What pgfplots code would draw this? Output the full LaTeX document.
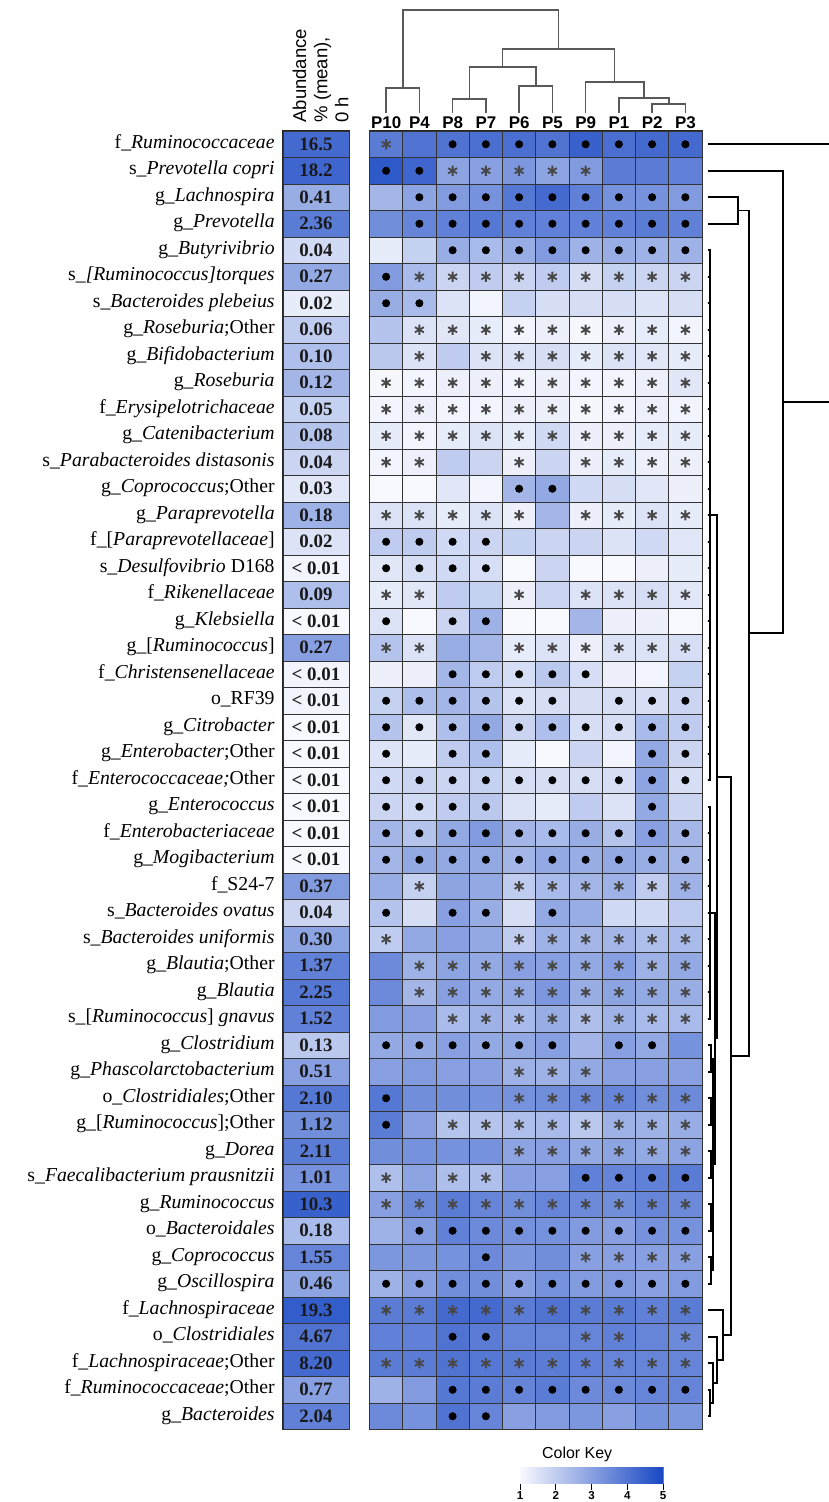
\documentclass[border=0pt]{standalone}
\usepackage{pgfplots}
\pgfplotsset{compat=1.18}
\usepackage{pgfplotstable}
\usepgfplotslibrary{patchplots}
\usepackage{fontspec}
\setmainfont{Liberation Serif}
\newfontfamily\arial{Liberation Sans}

\pgfdeclareplotmark{hcell}{\pgfpathrectangle{\pgfpoint{-8.3125bp}{-6.625bp}}{\pgfpoint{16.625bp}{13.25bp}}\pgfusepathqfillstroke}
\pgfdeclareplotmark{acell}{\pgfpathrectangle{\pgfpoint{-16.5bp}{-6.625bp}}{\pgfpoint{33bp}{13.25bp}}\pgfusepathqfillstroke}

\pgfplotsset{colormap={hm}{rgb255=(248,249,254) rgb255=(25,72,196)}}

\pgfplotstableread{
r c0 c1 c2 c3 c4 c5 c6 c7 c8 c9 s0 s1 s2 s3 s4 s5 s6 s7 s8 s9
0 3.8 4.0 4.0 4.1 4.1 4.0 4.4 4.1 4.2 4.2 1 0 2 2 2 2 2 2 2 2
1 4.6 4.3 2.9 3.0 3.2 2.9 3.1 3.8 3.8 3.7 2 2 1 1 1 1 1 0 0 0
2 2.5 2.9 3.1 3.3 3.9 4.2 3.7 3.3 3.3 3.1 0 2 2 2 2 2 2 2 2 2
3 3.4 3.6 3.7 3.9 3.7 3.7 3.7 3.7 3.8 3.7 0 2 2 2 2 2 2 2 2 2
4 1.3 1.9 2.7 2.4 2.7 3.1 2.6 2.7 2.6 2.6 0 0 2 2 2 2 2 2 2 2
5 3.1 2.4 1.8 2.0 1.8 2.0 1.6 1.9 1.8 1.8 2 1 1 1 1 1 1 1 1 1
6 2.7 2.4 1.5 1.1 1.9 1.6 1.6 1.6 1.5 1.6 2 2 0 0 0 0 0 0 0 0
7 2.2 1.5 1.4 1.3 1.1 1.2 1.05 1.2 1.3 1.1 0 1 1 1 1 1 1 1 1 1
8 2.1 1.5 2.0 1.5 1.5 1.6 1.3 1.5 1.4 1.3 0 1 0 1 1 1 1 1 1 1
9 1.05 1.1 1.2 1.2 1.1 1.2 1.1 1.1 1.2 1.4 1 1 1 1 1 1 1 1 1 1
10 1.1 1.2 1.1 1.1 1.2 1.2 1.05 1.1 1.2 1.1 1 1 1 1 1 1 1 1 1 1
11 1.3 1.1 1.3 1.5 1.3 1.7 1.2 1.2 1.3 1.3 1 1 1 1 1 1 1 1 1 1
12 1.1 1.2 2.0 1.8 1.2 1.8 1.2 1.3 1.2 1.2 1 1 0 0 1 0 1 1 1 1
13 1.0 1.0 1.4 1.1 2.5 2.8 1.7 1.6 1.4 1.2 0 0 0 0 2 2 0 0 0 0
14 1.5 1.5 1.3 1.5 1.2 2.5 1.2 1.3 1.5 1.3 1 1 1 1 1 0 1 1 1 1
15 2.0 2.0 1.7 1.8 1.9 1.8 1.8 1.5 1.7 1.4 2 2 2 2 0 0 0 0 0 0
16 1.4 1.6 1.7 1.6 1.0 1.8 1.0 1.0 1.2 1.3 2 2 2 2 0 0 0 0 0 0
17 1.3 1.4 2.0 1.9 1.2 1.8 1.5 1.5 1.6 1.4 1 1 0 0 1 0 1 1 1 1
18 1.5 1.0 1.8 2.6 1.0 1.0 2.5 1.2 1.2 1.0 2 0 2 2 0 0 0 0 0 0
19 2.2 1.5 2.7 2.5 1.3 1.5 1.2 1.5 1.5 1.6 1 1 0 0 1 1 1 1 1 1
20 1.2 1.2 2.5 2.0 1.6 2.1 1.6 1.2 1.1 1.9 0 0 2 2 2 2 2 0 0 0
21 1.9 2.3 2.5 2.2 1.5 1.6 1.6 1.6 1.6 1.8 2 2 2 2 2 2 0 2 2 2
22 2.2 1.4 2.3 2.8 1.8 2.3 1.6 1.6 2.4 2.0 2 2 2 2 2 2 2 2 2 2
23 1.5 1.3 2.0 2.3 1.3 1.0 1.8 1.1 2.8 1.8 2 0 2 2 0 0 0 0 2 2
24 1.7 1.8 1.8 1.9 1.6 1.6 1.6 1.6 2.9 1.6 2 2 2 2 2 2 2 2 2 2
25 1.8 1.7 2.0 2.1 1.5 1.3 2.0 1.5 2.8 1.8 2 2 2 2 0 0 0 0 2 0
26 2.5 2.2 2.8 3.1 2.5 2.4 2.7 2.2 3.0 2.5 2 2 2 2 2 2 2 2 2 2
27 2.5 2.8 2.8 2.8 2.5 2.8 2.7 2.8 2.7 2.5 2 2 2 2 2 2 2 2 2 2
28 2.7 1.9 2.9 2.8 2.0 2.4 2.5 2.6 2.0 2.6 0 1 0 0 1 1 1 1 1 1
29 2.2 1.6 3.0 2.7 1.6 2.8 2.7 1.7 1.7 2.0 2 0 2 2 0 2 0 0 0 0
30 2.0 2.8 3.0 2.8 2.0 2.6 2.5 2.5 2.3 2.4 1 0 0 0 1 1 1 1 1 1
31 3.5 2.6 2.9 2.8 3.0 3.0 2.8 3.0 2.6 2.8 0 1 1 1 1 1 1 1 1 1
32 3.5 2.5 3.0 2.8 2.8 3.2 2.7 2.9 2.8 2.7 0 1 1 1 1 1 1 1 1 1
33 3.1 3.0 2.4 2.6 2.4 2.7 2.3 2.6 2.4 2.4 0 0 1 1 1 1 1 1 1 1
34 2.8 2.8 3.0 2.8 2.8 3.0 2.5 3.0 2.8 3.3 2 2 2 2 2 2 0 2 2 0
35 3.0 3.1 3.0 3.0 2.6 2.6 2.8 3.0 3.0 3.0 0 0 0 0 1 1 1 0 0 0
36 3.9 3.4 3.4 3.3 3.3 3.4 3.5 3.6 3.4 3.5 2 0 0 0 1 1 1 1 1 1
37 3.8 3.0 2.2 2.2 2.3 2.4 2.1 2.6 2.6 2.7 2 0 1 1 1 1 1 1 1 1
38 3.4 3.3 3.3 3.3 2.9 3.0 2.8 2.9 2.8 2.9 0 0 0 0 1 1 1 1 1 1
39 2.3 2.9 2.3 2.3 3.0 3.0 3.7 3.6 3.7 3.8 1 0 1 1 0 0 2 2 2 2
40 3.0 3.5 3.8 3.6 3.4 3.6 3.5 3.4 3.6 3.5 1 1 1 1 1 1 1 1 1 1
41 2.6 3.1 3.7 3.5 3.3 3.3 3.1 3.0 3.3 3.3 0 2 2 2 2 2 2 2 2 2
42 3.2 3.2 3.3 3.5 3.2 3.4 3.0 3.0 3.0 3.0 0 0 0 2 0 0 1 1 1 1
43 2.6 3.0 3.4 3.4 3.0 3.3 3.1 3.1 3.0 3.1 2 2 2 2 2 2 2 2 2 2
44 3.8 3.8 4.2 4.2 3.8 4.0 3.8 3.8 3.7 3.8 1 1 1 1 1 1 1 1 1 1
45 3.7 3.7 4.0 3.8 3.6 3.6 3.6 3.7 3.6 3.5 0 0 2 2 0 0 1 1 0 1
46 3.8 3.8 4.0 3.9 3.8 3.8 3.7 3.6 3.6 3.6 1 1 1 1 1 1 1 1 1 1
47 2.6 3.1 3.9 3.8 3.6 3.8 3.5 3.5 3.6 3.6 0 0 2 2 2 2 2 2 2 2
48 3.5 3.3 4.0 3.6 3.0 3.1 3.2 3.0 3.3 3.2 0 0 2 2 0 0 0 0 0 0
}\heat

\pgfplotstableread[col sep=comma]{
y,c,lab
0,4.2,16.5
1,4.3,18.2
2,2.7,0.41
3,3.8,2.36
4,1.7,0.04
5,2.8,0.27
6,1.3,0.02
7,2.0,0.06
8,2.3,0.10
9,2.5,0.12
10,1.9,0.05
11,2.2,0.08
12,1.8,0.04
13,1.4,0.03
14,2.6,0.18
15,1.5,0.02
16,1.1,< 0.01
17,2.3,0.09
18,1.0,< 0.01
19,3.0,0.27
20,1.1,< 0.01
21,1.1,< 0.01
22,1.0,< 0.01
23,1.0,< 0.01
24,1.0,< 0.01
25,1.0,< 0.01
26,1.0,< 0.01
27,1.0,< 0.01
28,3.1,0.37
29,1.8,0.04
30,2.9,0.30
31,3.7,1.37
32,3.9,2.25
33,3.7,1.52
34,2.1,0.13
35,3.0,0.51
36,3.9,2.10
37,3.4,1.12
38,3.8,2.11
39,3.3,1.01
40,4.4,10.3
41,2.4,0.18
42,3.6,1.55
43,2.9,0.46
44,4.5,19.3
45,4.0,4.67
46,4.2,8.20
47,3.0,0.77
48,3.7,2.04
}\abund

\begin{document}
\begin{tikzpicture}
\useasboundingbox (0,0) rectangle (414.5bp,-751bp);

% ---------- abundance column ----------
\begin{axis}[
  at={(141.5bp,-65.5bp)}, anchor=north west,
  x=33bp, y=13.25bp,
  xmin=0, xmax=1, ymin=-0.5, ymax=48.5,
  axis line style={black!85, line width=0.6bp},
  xtick=\empty, ytick={0,...,48}, major tick length=0pt,
  typeset ticklabels with strut,
  yticklabel style={font=\fontsize{9.9}{9.9}\selectfont, anchor=east, inner sep=0pt, xshift=-4bp},
  yticklabels={
{g\_\textit{Bacteroides}},
{f\_\textit{Ruminococcaceae};Other},
{f\_\textit{Lachnospiraceae};Other},
{o\_\textit{Clostridiales}},
{f\_\textit{Lachnospiraceae}},
{g\_\textit{Oscillospira}},
{g\_\textit{Coprococcus}},
{o\_\textit{Bacteroidales}},
{g\_\textit{Ruminococcus}},
{s\_\textit{Faecalibacterium prausnitzii}},
{g\_\textit{Dorea}},
{g\_[\textit{Ruminococcus}];Other},
{o\_\textit{Clostridiales};Other},
{g\_\textit{Phascolarctobacterium}},
{g\_\textit{Clostridium}},
{s\_[\textit{Ruminococcus}] \textit{gnavus}},
{g\_\textit{Blautia}},
{g\_\textit{Blautia};Other},
{s\_\textit{Bacteroides uniformis}},
{s\_\textit{Bacteroides ovatus}},
{f\_S24-7},
{g\_\textit{Mogibacterium}},
{f\_\textit{Enterobacteriaceae}},
{g\_\textit{Enterococcus}},
{f\_\textit{Enterococcaceae;}Other},
{g\_\textit{Enterobacter};Other},
{g\_\textit{Citrobacter}},
{o\_RF39},
{f\_\textit{Christensenellaceae}},
{g\_[\textit{Ruminococcus}]},
{g\_\textit{Klebsiella}},
{f\_\textit{Rikenellaceae}},
{s\_\textit{Desulfovibrio} D168},
{f\_[\textit{Paraprevotellaceae}]},
{g\_\textit{Paraprevotella}},
{g\_\textit{Coprococcus};Other},
{s\_\textit{Parabacteroides distasonis}},
{g\_\textit{Catenibacterium}},
{f\_\textit{Erysipelotrichaceae}},
{g\_\textit{Roseburia}},
{g\_\textit{Bifidobacterium}},
{g\_\textit{Roseburia};Other},
{s\_\textit{Bacteroides plebeius}},
{s\_\textit{[Ruminococcus]torques}},
{g\_\textit{Butyrivibrio}},
{g\_\textit{Prevotella}},
{g\_\textit{Lachnospira}},
{s\_\textit{Prevotella copri}},
{f\_\textit{Ruminococcaceae}}},
  colormap name=hm, point meta min=1, point meta max=5,
]
\addplot[scatter, only marks, mark=acell, line width=0.5bp,
  scatter/use mapped color={draw=black!80, fill=mapped color},
  point meta=explicit]
  table[x expr=0.5, y expr=48-\thisrow{y}, meta=c] {\abund};
\addplot[only marks, mark=none, point meta=explicit symbolic, nodes near coords,
  nodes near coords style={anchor=center, inner sep=0pt, text=black!90,
    font=\bfseries\fontsize{9.5}{9.5}\selectfont}]
  table[x expr=0.5, y expr=48-\thisrow{y}, meta=lab] {\abund};
\end{axis}

\node[rotate=90, anchor=south west, align=left, inner sep=0pt,
  font=\arial\fontsize{9.3}{10.6}\selectfont] at (174.5bp,-61.5bp)
  {Abundance\\\% (mean),\\0 h};

% ---------- heatmap ----------
\begin{axis}[
  at={(184.75bp,-65.5bp)}, anchor=north west,
  x=16.625bp, y=13.25bp,
  xmin=-0.5, xmax=9.5, ymin=-0.5, ymax=48.5,
  clip=false,
  axis line style={black!85, line width=0.6bp},
  xtick={0,...,9}, xticklabels={P10,P4,P8,P7,P6,P5,P9,P1,P2,P3},
  xticklabel pos=right,
  xticklabel style={font=\arial\bfseries\fontsize{8.5}{8.5}\selectfont, anchor=south, inner sep=0pt, yshift=1.2bp},
  ytick=\empty, major tick length=0pt,
  colormap name=hm, point meta min=1, point meta max=5,
  rowd/.style={black, line width=0.8bp, mark=none, forget plot},
  cold/.style={black!65, line width=0.75bp, mark=none, forget plot},
]
% column dendrogram
\addplot[cold] coordinates {(0,49.18)(0,50.12)(1,50.12)(1,49.18)};
\addplot[cold] coordinates {(2,49.18)(2,49.71)(3,49.71)(3,49.18)};
\addplot[cold] coordinates {(4,49.18)(4,50.20)(5,50.20)(5,49.18)};
\addplot[cold] coordinates {(2.5,49.71)(2.5,50.92)(4.5,50.92)(4.5,50.20)};
\addplot[cold] coordinates {(8,49.18)(8,49.52)(9,49.52)(9,49.18)};
\addplot[cold] coordinates {(7,49.18)(7,49.75)(8.5,49.75)(8.5,49.52)};
\addplot[cold] coordinates {(6,49.18)(6,50.35)(7.75,50.35)(7.75,49.75)};
\addplot[cold] coordinates {(3.5,50.92)(3.5,51.59)(6.875,51.59)(6.875,50.35)};
\addplot[cold] coordinates {(0.5,50.12)(0.5,53.07)(5.1875,53.07)(5.1875,51.59)};
% row dendrogram
\addplot[rowd] coordinates {(9.68,48)(13.6,48)};
\addplot[rowd] coordinates {(9.68,47)(11.94,47)(11.94,29.547)(10.91,29.547)};
\addplot[rowd] coordinates {(11.94,38.273)(13.6,38.273)};
\addplot[rowd] coordinates {(9.68,46)(10.58,46)(10.58,45)(9.68,45)};
\addplot[rowd] coordinates {(10.58,45.5)(10.91,45.5)(10.91,13.594)(10.37,13.594)};
\addplot[rowd] coordinates {(9.95,24.125)(10.37,24.125)(10.37,3.0625)(10.13,3.0625)};
\addplot[rowd] coordinates {(9.74,34)(9.95,34)(9.95,14.25)(9.89,14.25)};
\addplot[rowd] coordinates {(9.74,19)(9.89,19)(9.89,9.5)(9.83,9.5)};
\addplot[rowd] coordinates {(9.77,13.5)(9.83,13.5)(9.83,5.5)(9.77,5.5)};
\addplot[rowd] coordinates {(9.77,11.5)(9.83,11.5)};
\addplot[rowd] coordinates {(9.77,9.5)(9.83,9.5)};
\addplot[rowd] coordinates {(9.77,7.5)(9.83,7.5)};
\addplot[rowd] coordinates {(9.68,14)(9.77,14)(9.77,13)(9.68,13)};
\addplot[rowd] coordinates {(9.68,12)(9.77,12)(9.77,11)(9.68,11)};
\addplot[rowd] coordinates {(9.68,10)(9.77,10)(9.77,9)(9.68,9)};
\addplot[rowd] coordinates {(9.68,8)(9.77,8)(9.77,7)(9.68,7)};
\addplot[rowd] coordinates {(9.68,6)(9.77,6)(9.77,5)(9.68,5)};
\addplot[rowd] coordinates {(9.68,4)(10.13,4)(10.13,2.125)(9.95,2.125)};
\addplot[rowd] coordinates {(9.68,3)(9.95,3)(9.95,1.25)(9.83,1.25)};
\addplot[rowd] coordinates {(9.68,2)(9.83,2)(9.83,0.5)(9.74,0.5)};
\addplot[rowd] coordinates {(9.68,1)(9.74,1)(9.74,0)(9.68,0)};
\addplot[rowd] coordinates {(9.68,44)(9.74,44)
 (9.74,43)(9.68,43)(9.74,43) (9.74,42)(9.68,42)(9.74,42) (9.74,41)(9.68,41)(9.74,41)
 (9.74,40)(9.68,40)(9.74,40) (9.74,39)(9.68,39)(9.74,39) (9.74,38)(9.68,38)(9.74,38)
 (9.74,37)(9.68,37)(9.74,37) (9.74,36)(9.68,36)(9.74,36) (9.74,35)(9.68,35)(9.74,35)
 (9.74,34)(9.68,34)(9.74,34) (9.74,33)(9.68,33)(9.74,33) (9.74,32)(9.68,32)(9.74,32)
 (9.74,31)(9.68,31)(9.74,31) (9.74,30)(9.68,30)(9.74,30) (9.74,29)(9.68,29)(9.74,29)
 (9.74,28)(9.68,28)(9.74,28) (9.74,27)(9.68,27)(9.74,27) (9.74,26)(9.68,26)(9.74,26)
 (9.74,25)(9.68,25)(9.74,25) (9.74,24)(9.68,24)(9.74,24)};
\addplot[rowd] coordinates {(9.68,23)(9.74,23)
 (9.74,22)(9.68,22)(9.74,22) (9.74,21)(9.68,21)(9.74,21) (9.74,20)(9.68,20)(9.74,20)
 (9.74,19)(9.68,19)(9.74,19) (9.74,18)(9.68,18)(9.74,18) (9.74,17)(9.68,17)(9.74,17)
 (9.74,16)(9.68,16)(9.74,16) (9.74,15)(9.68,15)(9.74,15)};
% cells
\pgfplotsinvokeforeach{0,...,9}{
\addplot[scatter, only marks, mark=hcell, line width=0.5bp,
  scatter/use mapped color={draw=black!80, fill=mapped color},
  point meta=explicit]
  table[x expr=#1, y expr=48-\thisrow{r}, meta=c#1] {\heat};
}
% symbols
\pgfplotsinvokeforeach{0,...,9}{
\addplot[only marks, mark=asterisk, mark size=2.6bp, black!72, line width=0.9bp,
  restrict expr to domain={\thisrow{s#1}}{0.5:1.5}]
  table[x expr=#1, y expr=48-\thisrow{r}] {\heat};
\addplot[only marks, mark=*, mark size=1.8bp, black,
  restrict expr to domain={\thisrow{s#1}}{1.5:2.5}]
  table[x expr=#1, y expr=48-\thisrow{r}] {\heat};
}
\end{axis}

% ---------- colour key ----------
\begin{axis}[
  at={(260bp,-733.5bp)}, anchor=north west,
  width=71.5bp, height=8bp, scale only axis,
  xmin=1, xmax=5, ymin=0, ymax=1,
  xtick={1,2,3,4,5}, xticklabels={1,2,3,4,5},
  xtick pos=left, ytick=\empty, tick align=outside, major tick length=3.5bp,
  xtick style={black, line width=0.5bp},
  xticklabel style={font=\arial\bfseries\fontsize{5.8}{5.8}\selectfont, inner sep=0.6bp},
  axis line style={black!50, line width=0.5bp},
  title={Color Key},
  title style={font=\arial\fontsize{8}{8}\selectfont, at={(0.4,1)}, anchor=south, yshift=-3.5pt, inner sep=0pt},
  colormap name=hm, point meta min=1, point meta max=5,
]
\addplot[patch, patch type=rectangle, shader=interp, point meta=explicit]
  coordinates {(1,0) [1] (5,0) [5] (5,1) [5] (1,1) [1]};
\end{axis}
\end{tikzpicture}
\end{document}
